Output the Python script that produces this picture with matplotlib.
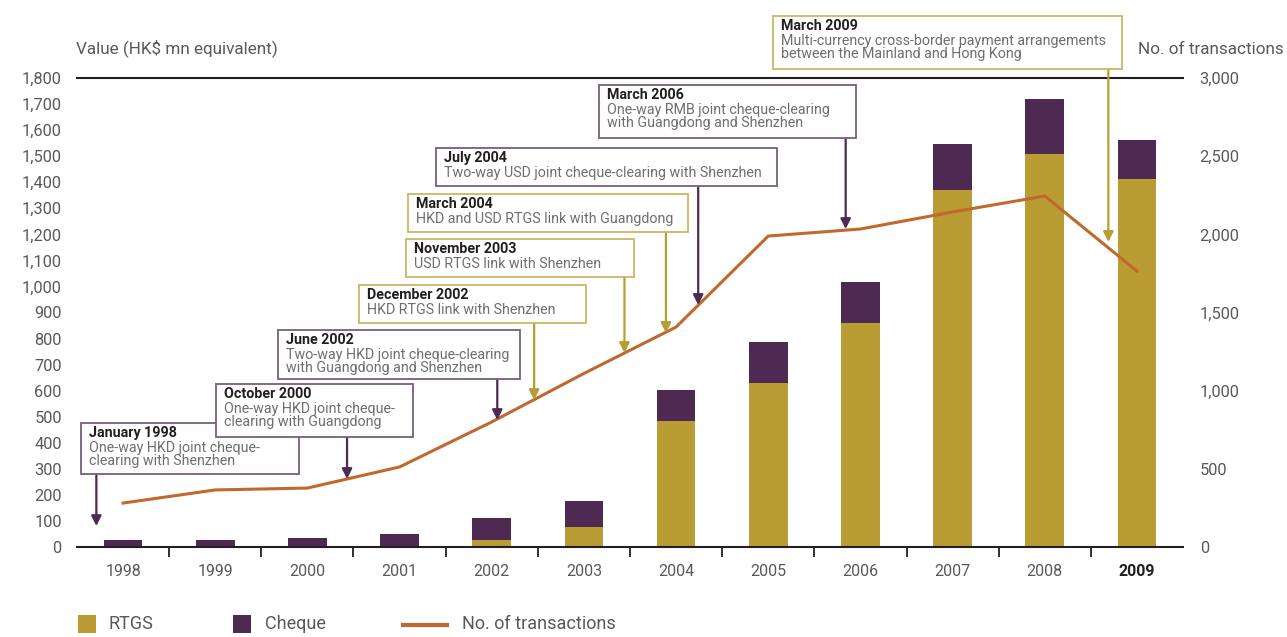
import matplotlib
matplotlib.use("Agg")
import matplotlib.pyplot as plt
from matplotlib.patches import Rectangle
from matplotlib.lines import Line2D

plt.rcParams['font.family'] = ['Roboto', 'DejaVu Sans']

# data
years = ['1998', '1999', '2000', '2001', '2002', '2003', '2004', '2005', '2006', '2007', '2008', '2009']
rtgs = [0, 0, 0, 0, 27, 77, 484, 629, 860, 1370, 1508, 1412]
cheque = [27, 27, 36, 50, 84, 100, 119, 158, 157, 177, 211, 150]
transactions = [281, 365, 377, 512, 800, 1110, 1407, 1989, 2034, 2143, 2245, 1765]

# milestones: title, description, position on the year axis, arrow tip (no. of transactions), kind
event_titles = ['January 1998', 'October 2000', 'June 2002', 'December 2002', 'November 2003',
                'March 2004', 'July 2004', 'March 2006', 'March 2009']
event_texts = ['One-way HKD joint cheque-\nclearing with Shenzhen',
               'One-way HKD joint cheque-\nclearing with Guangdong',
               'Two-way HKD joint cheque-clearing\nwith Guangdong and Shenzhen',
               'HKD RTGS link with Shenzhen',
               'USD RTGS link with Shenzhen',
               'HKD and USD RTGS link with Guangdong',
               'Two-way USD joint cheque-clearing with Shenzhen',
               'One-way RMB joint cheque-clearing\nwith Guangdong and Shenzhen',
               'Multi-currency cross-border payment arrangements\nbetween the Mainland and Hong Kong']
event_x = [-0.29, 2.43, 4.06, 4.46, 5.44, 5.89, 6.24, 7.84, 10.69]
event_tip = [134, 435, 812, 940, 1241, 1369, 1548, 2034, 1951]
event_kind = ['cheque', 'cheque', 'cheque', 'rtgs', 'rtgs', 'rtgs', 'cheque', 'cheque', 'rtgs']

# box layout in image pixels: left, top, right, bottom
box_px = [(81, 423, 299, 474), (216, 384, 413, 437), (278, 330, 520, 379),
          (359, 285, 586, 323), (406, 239, 634, 277), (408, 194, 688, 232),
          (436, 148, 777, 186), (599, 85, 856, 138), (773, 16, 1122, 69)]

GOLD = '#b99c34'
PURPLE = '#4e2a52'
ORANGE = '#c1682e'
GREY = '#58595b'
LIGHTGREY = '#6d6e71'
DARK = '#231f20'
BOX_EDGE = {'cheque': '#7b5c7f', 'rtgs': '#cdb562'}
ARROW = {'cheque': PURPLE, 'rtgs': GOLD}

W, H = 1287, 637
fig = plt.figure(figsize=(W / 100, H / 100), dpi=100)
ax = fig.add_axes([77 / W, 90 / H, 1106 / W, 469 / H])

x = list(range(len(years)))
ax.bar(x, rtgs, width=0.42, color=GOLD, zorder=2)
ax.bar(x, cheque, width=0.42, bottom=rtgs, color=PURPLE, zorder=2)
ax.set_xlim(-0.5, 11.5)
ax.set_ylim(0, 1800)
ax.set_yticks(range(0, 1801, 100))
ax.set_yticklabels([f'{v:,}' for v in range(0, 1801, 100)])
ax.tick_params(axis='y', length=0, pad=11, labelsize=11.8, labelcolor=GREY)
ax.set_xticks(x)
ax.set_xticklabels(years)
ax.set_xticks([i + 0.5 for i in range(len(years) - 1)], minor=True)
ax.tick_params(axis='x', which='major', length=0, pad=12, labelsize=11.5, labelcolor=GREY)
ax.tick_params(axis='x', which='minor', length=7, width=1.3, color=DARK)
last = ax.get_xticklabels()[-1]
last.set_fontweight('bold')
last.set_color(DARK)
for s in ['left', 'right']:
    ax.spines[s].set_visible(False)
for s in ['top', 'bottom']:
    ax.spines[s].set_color(DARK)
    ax.spines[s].set_linewidth(1.5)

ax2 = ax.twinx()
ax2.plot(x, transactions, color=ORANGE, lw=2.2, zorder=3)
ax2.set_ylim(0, 3000)
ax2.set_yticks(range(0, 3001, 500))
ax2.set_yticklabels([f'{v:,}' for v in range(0, 3001, 500)])
ax2.tick_params(axis='y', length=0, pad=12, labelsize=11.8, labelcolor=GREY)
for s in ax2.spines.values():
    s.set_visible(False)

fig.text(76 / W, 1 - 48 / H, 'Value (HK$ mn equivalent)', ha='left', va='center',
         fontsize=12.3, color=GREY)
fig.text(1284 / W, 1 - 50 / H, 'No. of transactions', ha='right', va='center',
         fontsize=12.3, color=GREY)

# milestone boxes and arrows
for i in range(len(event_titles)):
    l, t, r, b = box_px[i]
    kind = event_kind[i]
    ax2.annotate('', xy=(event_x[i], event_tip[i]), xycoords='data',
                 xytext=(event_x[i], H - b), textcoords=('data', 'figure pixels'),
                 annotation_clip=False,
                 arrowprops=dict(arrowstyle='-|>', color=ARROW[kind], lw=1.6,
                                 mutation_scale=15, shrinkA=0, shrinkB=0))
    fig.patches.append(Rectangle((l / W, 1 - b / H), (r - l) / W, (b - t) / H,
                                 transform=fig.transFigure, facecolor='white',
                                 edgecolor=BOX_EDGE[kind], lw=1.3, zorder=5 + i))
    fig.text((l + 8) / W, 1 - (t + 3) / H, event_titles[i], ha='left', va='top',
             fontsize=10.3, fontweight='bold', color=DARK, zorder=5 + i)
    fig.text((l + 8) / W, 1 - (t + 18) / H, event_texts[i], ha='left', va='top',
             fontsize=10.3, color=LIGHTGREY, linespacing=0.92, zorder=5 + i)

# legend
fig.patches.append(Rectangle((78 / W, 1 - 633 / H), 18 / W, 18 / H,
                             transform=fig.transFigure, facecolor=GOLD, edgecolor='none'))
fig.text(108 / W, 1 - 624 / H, 'RTGS', ha='left', va='center', fontsize=13, color=GREY)
fig.patches.append(Rectangle((233 / W, 1 - 633 / H), 18 / W, 18 / H,
                             transform=fig.transFigure, facecolor=PURPLE, edgecolor='none'))
fig.text(265 / W, 1 - 624 / H, 'Cheque', ha='left', va='center', fontsize=13, color=GREY)
fig.lines.append(Line2D([403 / W, 447 / W], [1 - 625 / H, 1 - 625 / H],
                        transform=fig.transFigure, color=ORANGE, lw=3))
fig.text(462 / W, 1 - 624 / H, 'No. of transactions', ha='left', va='center',
         fontsize=13, color=GREY)

fig.savefig('out.png', dpi=100)
